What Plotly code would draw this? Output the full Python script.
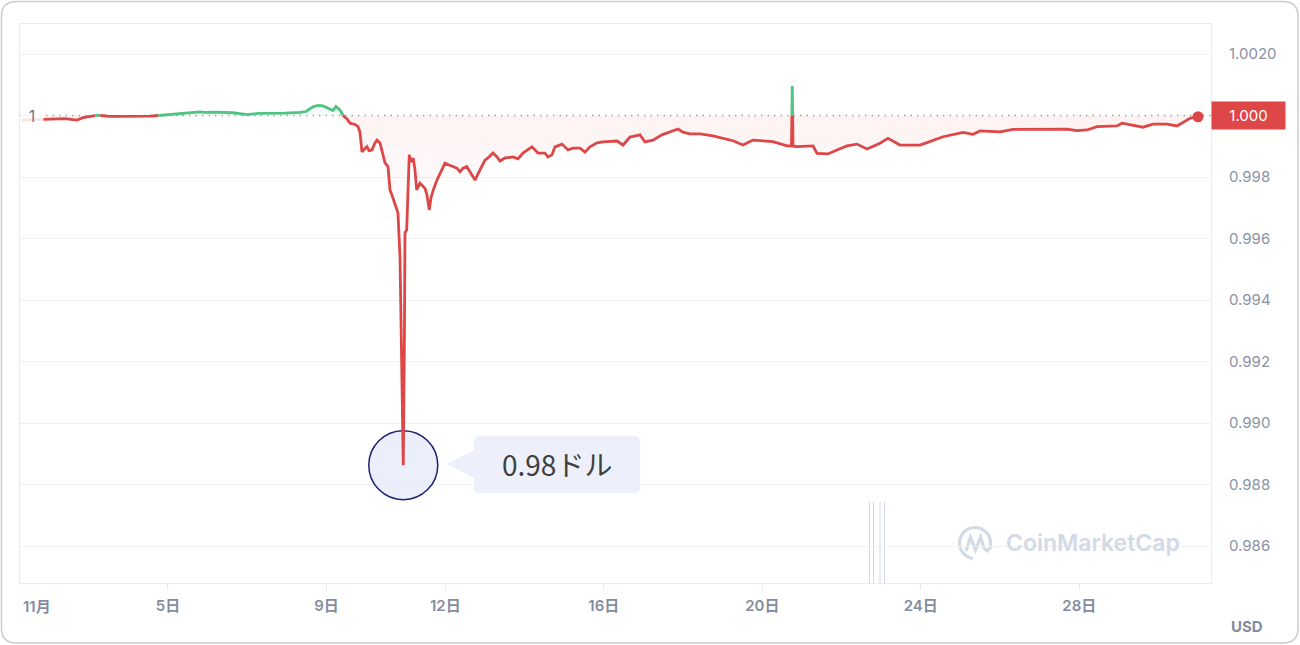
import numpy as np
import pandas as pd
import plotly.graph_objects as go

# ---------------- data ----------------
# fractional day of November 2022 (31.0 = 1 Dec 00:00)
day = [1.315, 1.643, 2.022, 2.400, 2.703, 2.855, 3.208, 3.536, 3.789, 4.117,
       4.546, 4.975, 5.429, 5.808, 5.934, 6.186, 6.641, 6.994, 7.272, 7.499,
       7.953, 8.332, 8.483, 8.660, 8.786, 8.912, 9.089, 9.165, 9.240, 9.341,
       9.417, 9.518, 9.594, 9.720, 9.796, 9.846, 9.896, 9.972, 10.023, 10.073,
       10.149, 10.225, 10.275, 10.351, 10.401, 10.477, 10.553, 10.603, 10.654, 10.729,
       10.805, 10.856, 10.906, 10.939, 10.969, 10.982, 11.025, 11.058, 11.090, 11.133,
       11.158, 11.191, 11.234, 11.277, 11.360, 11.436, 11.487, 11.537, 11.595, 11.638,
       11.696, 11.790, 11.865, 11.991, 12.092, 12.201, 12.294, 12.370, 12.446, 12.539,
       12.622, 12.749, 12.875, 13.001, 13.077, 13.203, 13.304, 13.380, 13.506, 13.708,
       13.834, 13.960, 14.187, 14.339, 14.515, 14.591, 14.692, 14.768, 14.944, 15.096,
       15.222, 15.399, 15.525, 15.651, 15.828, 15.979, 16.333, 16.484, 16.661, 16.913,
       17.039, 17.241, 17.468, 17.721, 17.872, 17.998, 18.175, 18.428, 18.756, 19.260,
       19.513, 19.765, 20.270, 20.623, 20.737, 20.757, 20.775, 20.876, 21.280, 21.381,
       21.658, 21.885, 22.138, 22.390, 22.643, 22.971, 23.173, 23.475, 23.980, 24.157,
       24.561, 25.066, 25.318, 25.495, 26.000, 26.328, 26.832, 27.691, 27.943, 28.195,
       28.448, 28.953, 29.079, 29.356, 29.609, 29.861, 30.214, 30.467, 30.795, 30.997]

price = [0.99985, 0.99987, 0.99987, 0.99990, 0.99985, 0.99993, 1.00001, 0.99997, 0.99997, 0.99997,
         0.99998, 1.00002, 1.00008, 1.00012, 1.00010, 1.00011, 1.00009, 1.00003, 1.00007, 1.00007,
         1.00008, 1.00010, 1.00013, 1.00028, 1.00033, 1.00031, 1.00021, 1.00016, 1.00029, 1.00018,
         1.00000, 0.99989, 0.99975, 0.99971, 0.99964, 0.99946, 0.99882, 0.99894, 0.99899, 0.99886,
         0.99888, 0.99911, 0.99920, 0.99911, 0.99888, 0.99846, 0.99834, 0.99758, 0.99741, 0.99715,
         0.99683, 0.99540, 0.99182, 0.98863, 0.99302, 0.99618, 0.99628, 0.99758, 0.99872, 0.99849,
         0.99855, 0.99861, 0.99823, 0.99758, 0.99780, 0.99771, 0.99763, 0.99741, 0.99693, 0.99732,
         0.99758, 0.99790, 0.99812, 0.99845, 0.99839, 0.99834, 0.99829, 0.99817, 0.99829, 0.99834,
         0.99816, 0.99790, 0.99823, 0.99855, 0.99862, 0.99878, 0.99865, 0.99852, 0.99862, 0.99865,
         0.99859, 0.99878, 0.99898, 0.99878, 0.99878, 0.99865, 0.99872, 0.99898, 0.99907, 0.99888,
         0.99894, 0.99894, 0.99881, 0.99898, 0.99911, 0.99914, 0.99917, 0.99904, 0.99930, 0.99937,
         0.99914, 0.99920, 0.99937, 0.99950, 0.99956, 0.99946, 0.99940, 0.99940, 0.99934, 0.99918,
         0.99904, 0.99920, 0.99915, 0.99901, 0.99901, 1.00096, 0.99901, 0.99899, 0.99901, 0.99877,
         0.99875, 0.99888, 0.99901, 0.99907, 0.99891, 0.99910, 0.99926, 0.99904, 0.99904, 0.99912,
         0.99931, 0.99945, 0.99939, 0.99950, 0.99947, 0.99955, 0.99956, 0.99956, 0.99951, 0.99953,
         0.99964, 0.99966, 0.99975, 0.99967, 0.99962, 0.99972, 0.99972, 0.99966, 0.99991, 0.99996]

base_price = 1.0
ytick_vals = [1.002, 0.998, 0.996, 0.994, 0.992, 0.990, 0.988, 0.986]
ytick_text = ["1.0020", "0.998", "0.996", "0.994", "0.992", "0.990", "0.988", "0.986"]
xtick_days = [5, 9, 12, 16, 20, 24, 28]
xtick_text = ["5日", "9日", "12日", "16日", "20日", "24日", "28日"]
month_label = "11月"
last_label = "1.000"
base_label = "1"
low_label = "0.98ドル"
currency = "USD"
watermark = "CoinMarketCap"

# ---------------- styling ----------------
RED = "#dd4747"
GREEN = "#4fc480"
GRAY = "#838ca0"
GRID = "#eff1f5"
FONT = "Inter, 'Noto Sans CJK JP', sans-serif"
T0 = pd.Timestamp("2022-10-31")


def to_time(d):
    return T0 + pd.to_timedelta(np.asarray(d, dtype=float), unit="D")


# split the line into runs above / below the opening price
runs = []


def push(c, x, y):
    if runs and runs[-1][0] == c:
        runs[-1][1].append(x)
        runs[-1][2].append(y)
    else:
        runs.append((c, [x], [y]))


def side(v):
    return "g" if v > base_price else "r"


all_x, all_y = [day[0]], [price[0]]
push(side(price[0]), day[0], price[0])
for i in range(1, len(day)):
    xa, ya, xb, yb = day[i - 1], price[i - 1], day[i], price[i]
    ca, cb = side(ya), side(yb)
    if ca != cb:
        t = (base_price - ya) / (yb - ya)
        xc = xa + t * (xb - xa)
        push(ca, xc, base_price)
        push(cb, xc, base_price)
        all_x.append(xc)
        all_y.append(base_price)
    push(cb, xb, yb)
    all_x.append(xb)
    all_y.append(yb)


def collect(c):
    xs, ys = [], []
    for cc, rx, ry in runs:
        if cc == c:
            if xs:
                xs.append(None)
                ys.append(None)
            xs.extend(to_time(rx))
            ys.extend(ry)
    return xs, ys


red_x, red_y = collect("r")
grn_x, grn_y = collect("g")
tx = to_time(all_x)
ay = np.array(all_y)

fig = go.Figure()
fig.add_trace(go.Scatter(x=tx, y=[base_price] * len(tx), mode="lines",
                         line=dict(width=0), hoverinfo="skip", showlegend=False))
fig.add_trace(go.Scatter(x=tx, y=np.minimum(ay, base_price), mode="lines",
                         line=dict(width=0), fill="tonexty",
                         fillgradient=dict(type="vertical", start=0.9965, stop=1.0,
                                           colorscale=[[0, "rgba(221,71,71,0)"],
                                                       [1, "rgba(221,71,71,0.07)"]]),
                         hoverinfo="skip", showlegend=False))
fig.add_trace(go.Scatter(x=tx, y=[base_price] * len(tx), mode="lines",
                         line=dict(width=0), hoverinfo="skip", showlegend=False))
fig.add_trace(go.Scatter(x=tx, y=np.maximum(ay, base_price), mode="lines",
                         line=dict(width=0), fill="tonexty",
                         fillcolor="rgba(79,196,128,0.05)",
                         hoverinfo="skip", showlegend=False))
fig.add_trace(go.Scatter(x=red_x, y=red_y, mode="lines",
                         line=dict(color=RED, width=2.8), showlegend=False))
fig.add_trace(go.Scatter(x=grn_x, y=grn_y, mode="lines",
                         line=dict(color=GREEN, width=2.8), showlegend=False))
fig.add_trace(go.Scatter(x=[tx[-1]], y=[ay[-1]], mode="markers",
                         marker=dict(color=RED, size=11), showlegend=False))

# ---------------- geometry helpers (pixel -> paper) ----------------
PL, PR, PT, PB = 20, 1211, 24, 583


def px(x):
    return (x - PL) / (PR - PL)


def py(y):
    return (PB - y) / (PB - PT)


def pt(x, y):
    return f"{px(x):.5f},{py(y):.5f}"


def rrect(x0, y0, x1, y1, r, pointer=None):
    s = f"M{pt(x0 + r, y0)} L{pt(x1 - r, y0)} Q{pt(x1, y0)} {pt(x1, y0 + r)} "
    s += f"L{pt(x1, y1 - r)} Q{pt(x1, y1)} {pt(x1 - r, y1)} L{pt(x0 + r, y1)} "
    s += f"Q{pt(x0, y1)} {pt(x0, y1 - r)} "
    if pointer:
        tipx, tipy, half = pointer
        s += f"L{pt(x0, tipy + half)} L{pt(tipx, tipy)} L{pt(x0, tipy - half)} "
    s += f"L{pt(x0, y0 + r)} Q{pt(x0, y0)} {pt(x0 + r, y0)} Z"
    return s


shapes = []
# card border
shapes.append(dict(type="path", xref="paper", yref="paper",
                   path=rrect(1.5, 1.5, 1298, 643, 15),
                   line=dict(color="#c9ccd3", width=1.5), fillcolor="rgba(0,0,0,0)",
                   layer="below"))
# dotted opening-price line
shapes.append(dict(type="line", xref="paper", yref="y", x0=0, x1=1,
                   y0=base_price, y1=base_price,
                   line=dict(color="#9ba3b4", width=1.5, dash="1.5px,5px"),
                   layer="between"))
# thin vertical artefact lines near the bottom
for vx in [869.5, 873.5, 880, 884.5]:
    shapes.append(dict(type="line", xref="paper", yref="paper",
                       x0=px(vx), x1=px(vx), y0=0, y1=py(502),
                       line=dict(color="#d3d7e6", width=1), layer="between"))
# circle at the low
imin = int(np.argmin(price))
shapes.append(dict(type="circle", xref="x", yref="y",
                   xsizemode="pixel", ysizemode="pixel",
                   xanchor=to_time([day[imin]])[0], yanchor=price[imin],
                   x0=-34.5, x1=34.5, y0=-34.5, y1=34.5,
                   fillcolor="rgba(228,232,249,0.75)",
                   line=dict(color="#1d2170", width=1.5), layer="between"))
# callout bubble
shapes.append(dict(type="path", xref="paper", yref="paper",
                   path=rrect(474, 436, 640, 493, 6, pointer=(447, 464, 14)),
                   fillcolor="#edf0fb", line=dict(width=0), layer="above"))
# watermark logo
ang = np.radians(np.linspace(-25, 262, 40))
lx = 975 + 15.5 * np.cos(ang)
ly = 543 - 15.5 * np.sin(ang)
logo = "M" + " L".join(pt(a, b) for a, b in zip(lx, ly))
shapes.append(dict(type="path", xref="paper", yref="paper", path=logo,
                   line=dict(color="#d3d9e6", width=3.2), layer="below"))
mpts = [(966, 551), (970.5, 537), (975.5, 550), (980.5, 537), (984, 548), (987, 551), (992, 546)]
mpath = "M" + " L".join(pt(a, b) for a, b in mpts)
shapes.append(dict(type="path", xref="paper", yref="paper", path=mpath,
                   line=dict(color="#d3d9e6", width=3.2), layer="below"))

annotations = [
    dict(text=month_label, xref="paper", yref="paper", x=0, y=py(606), xanchor="left",
         yanchor="middle", showarrow=False, xshift=1,
         font=dict(family=FONT, size=15, color=GRAY, weight=600)),
    dict(text=base_label, xref="paper", yref="y", x=0, y=base_price, xanchor="left",
         yanchor="middle", showarrow=False, width=20, height=18,
         bgcolor="rgba(255,255,255,0.85)",
         font=dict(family=FONT, size=16, color="#6d7588")),
    dict(text=last_label, xref="paper", yref="y", x=1, y=base_price, xanchor="left",
         yanchor="middle", showarrow=False, width=69, height=23, borderpad=2,
         bgcolor=RED, font=dict(family=FONT, size=15, color="white")),
    dict(text=currency, xref="paper", yref="paper", x=px(1247), y=py(626),
         xanchor="center", yanchor="middle", showarrow=False,
         font=dict(family=FONT, size=15, color=GRAY, weight=700)),
    dict(text=watermark, xref="paper", yref="paper", x=px(1004), y=py(543),
         xanchor="left", yanchor="middle", showarrow=False,
         font=dict(family=FONT, size=23, color="#d3d9e6", weight=600)),
    dict(text=low_label, xref="paper", yref="paper", x=px(557), y=py(464),
         xanchor="center", yanchor="middle", showarrow=False,
         font=dict(family="'Noto Sans CJK JP', sans-serif", size=28, color="#3f3f3f")),
]

fig.update_layout(
    width=1300, height=645,
    margin=dict(l=PL, r=1300 - PR, t=PT, b=645 - PB),
    paper_bgcolor="white", plot_bgcolor="white",
    showlegend=False, hovermode=False,
    shapes=shapes, annotations=annotations,
    font=dict(family=FONT),
    xaxis=dict(type="date",
               range=["2022-11-01 06:22", "2022-12-01 07:48"],
               tickvals=list(to_time(xtick_days)), ticktext=xtick_text,
               showgrid=False, zeroline=False,
               showline=True, linecolor="#e9ebf0", linewidth=1, mirror=True,
               ticks="outside", ticklen=6, tickcolor="#e6e8ee",
               ticklabelstandoff=3,
               tickfont=dict(family=FONT, size=15, color=GRAY, weight=600)),
    yaxis=dict(side="right", range=[0.984797, 1.002976],
               tickvals=ytick_vals, ticktext=ytick_text,
               showgrid=True, gridcolor=GRID, gridwidth=1, zeroline=False,
               showline=True, linecolor="#e9ebf0", linewidth=1, mirror=True,
               ticks="", ticklabelstandoff=14, automargin=False,
               tickfont=dict(family=FONT, size=15, color="#8a92a5")),
)

fig.write_html("out.html", config={"displayModeBar": False},
               post_script="document.body.style.margin='0';")
